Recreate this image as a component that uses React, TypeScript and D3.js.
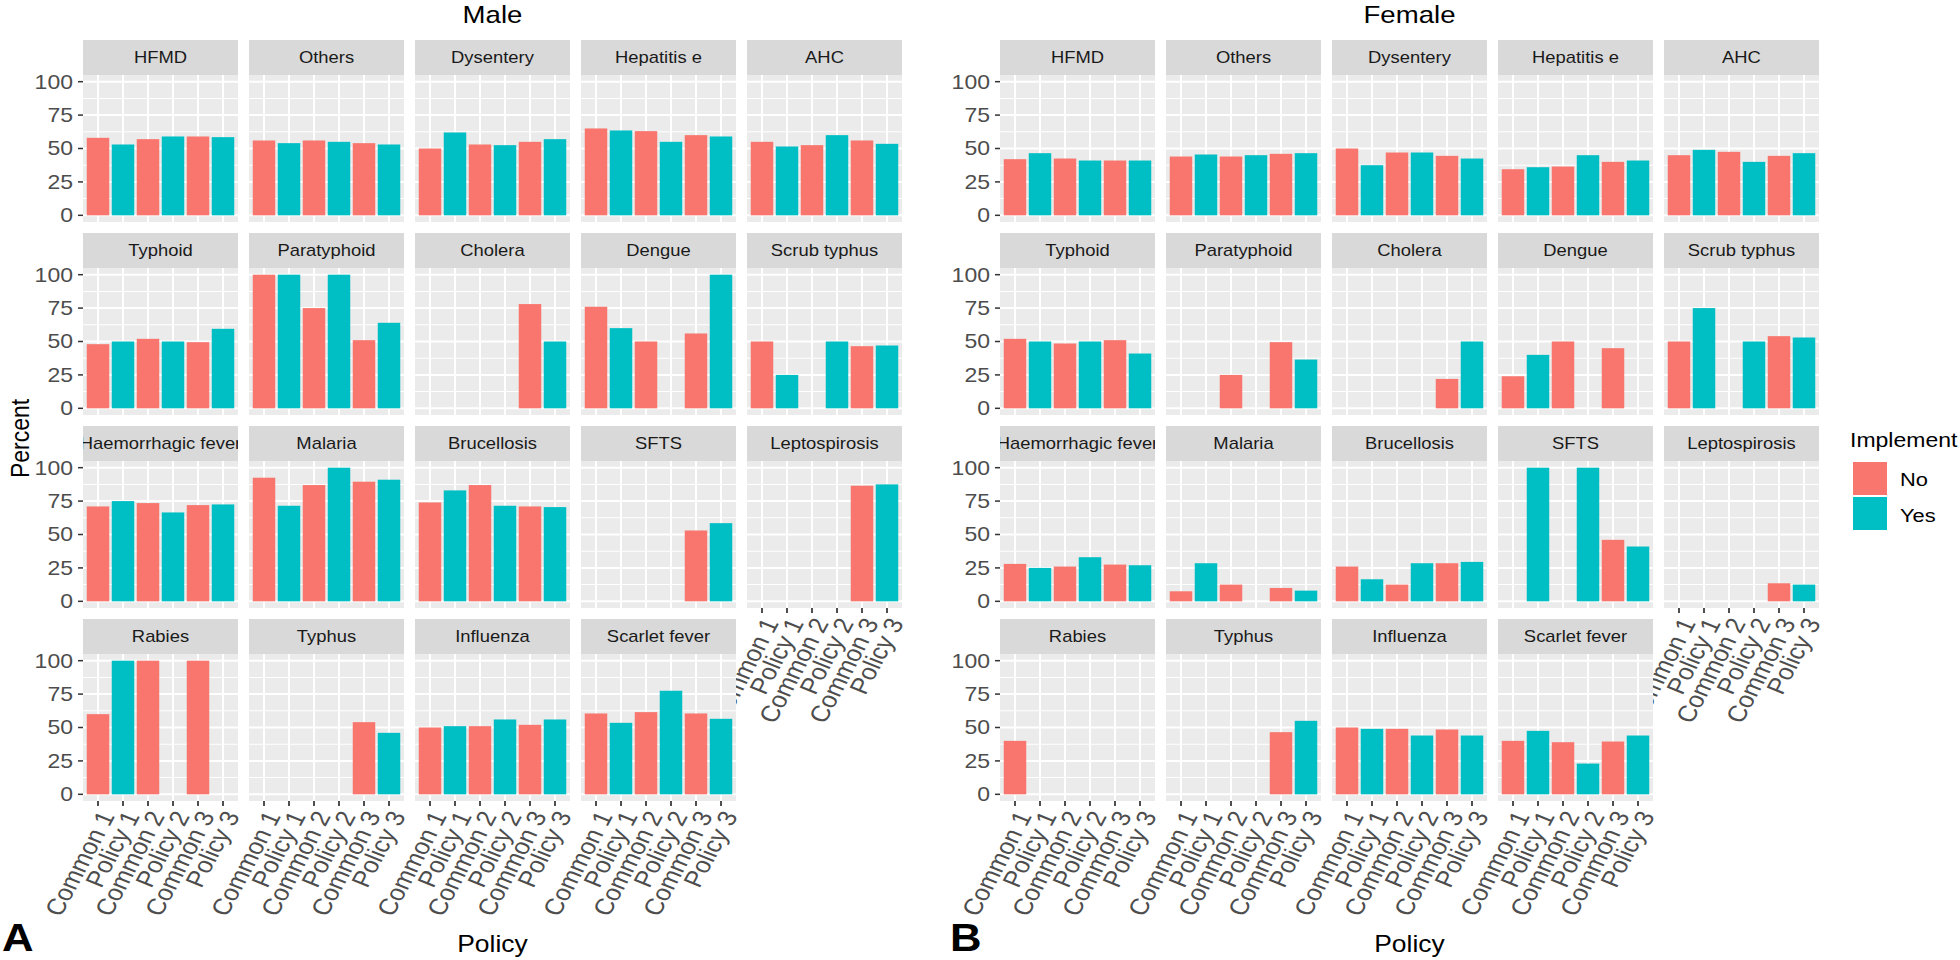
import * as d3 from "d3";
import React from "react";

const policies = ["Common 1", "Policy 1", "Common 2", "Policy 2", "Common 3", "Policy 3"];
const implement = ["No", "Yes", "No", "Yes", "No", "Yes"];
const implementLevels = ["No", "Yes"];
const implementColors = ["#F8766D", "#00BFC4"];
const yTicks = [0, 25, 50, 75, 100];
const yMinor = [12.5, 37.5, 62.5, 87.5];

const diseases = [
  "HFMD", "Others", "Dysentery", "Hepatitis e", "AHC",
  "Typhoid", "Paratyphoid", "Cholera", "Dengue", "Scrub typhus",
  "Haemorrhagic fever", "Malaria", "Brucellosis", "SFTS", "Leptospirosis",
  "Rabies", "Typhus", "Influenza", "Scarlet fever",
];

const _ = null;

// percent, one row per disease, columns follow `policies`
const maleValues: (number | null)[][] = [
  [58, 53, 57, 59, 59, 58.5],
  [56, 54, 56, 55, 54, 53],
  [50, 62, 53, 52.5, 55, 57],
  [65, 63.5, 63, 55, 60, 59],
  [55, 51.5, 52.5, 60, 56, 53.5],
  [48, 50, 52, 50, 49.5, 59.5],
  [100, 100, 75, 100, 51, 64],
  [_, _, _, _, 78, 50],
  [76, 60, 50, _, 56, 100],
  [50, 25, _, 50, 46.5, 47],
  [71, 75, 73.5, 66.5, 72, 72.5],
  [92.5, 71.5, 87, 100, 89.5, 91],
  [74, 83, 87, 71.5, 71, 70.5],
  [_, _, _, _, 53, 58.5],
  [_, _, _, _, 86.5, 87.5],
  [60, 100, 100, _, 100, _],
  [_, _, _, _, 54, 46],
  [50, 51, 51, 56, 52, 56],
  [60.5, 53.5, 61.5, 77.5, 60.5, 56.5],
];

const femaleValues: (number | null)[][] = [
  [42, 46.5, 42.5, 41, 41, 41],
  [44, 45.5, 44, 45, 46, 46.5],
  [50, 37.5, 47, 47, 44.5, 42.5],
  [34.5, 36, 36.5, 45, 40, 41],
  [45, 49, 47.5, 40, 44.5, 46.5],
  [52, 50, 48.5, 50, 51, 41],
  [_, _, 25, _, 49.5, 36.5],
  [_, _, _, _, 22, 50],
  [24, 40, 50, _, 45, _],
  [50, 75, _, 50, 54, 53],
  [28, 25, 26, 33, 27.5, 27],
  [7.5, 28.5, 12.5, _, 10, 8],
  [26, 16.5, 12.5, 28.5, 28.5, 29.5],
  [_, 100, _, 100, 46, 41],
  [_, _, _, _, 13.5, 12.5],
  [40, _, _, _, _, _],
  [_, _, _, _, 46.5, 55],
  [50, 49, 49, 44, 48.5, 44],
  [40, 47.5, 39, 23, 39.5, 44],
];

// the original figure is stretched sideways, so everything is drawn narrow and scaled
const S = 1.15;
const colStep = 166;
const panelW = 155;
const rowStep = 193;
const stripH = 35;
const panelH = 147;
const top0 = 40;
const nCols = 5;

const color = d3.scaleOrdinal<string, string>().domain(implementLevels).range(implementColors);

function FacetGrid({ id, title, values, left, tag, tagX, yTitle }: {
  id: string; title: string; values: (number | null)[][]; left: number;
  tag: string; tagX: number; yTitle: boolean;
}) {
  const pw = panelW / S;
  const x = d3.scalePoint<string>().domain(policies).range([0, pw]).padding(0.6);
  const bw = x.step() * 0.9;
  const cx = (left + (colStep * (nCols - 1) + panelW) / 2) / S;
  const nRows = Math.ceil(diseases.length / nCols);
  const gridBottom = top0 + (nRows - 1) * rowStep + stripH + panelH;

  return (
    <g>
      <text x={cx} y={23} textAnchor="middle" fontSize={24} fill="#000">{title}</text>
      {diseases.map((d, i) => {
        const r = Math.floor(i / nCols);
        const c = i % nCols;
        const px = (left + c * colStep) / S;
        const st = top0 + r * rowStep;
        const pt = st + stripH;
        const pb = pt + panelH;
        const y = d3.scaleLinear().domain([-5, 105]).range([pb, pt]);
        const bottom = i + nCols >= diseases.length;
        const clipId = `${id}-strip-${i}`;
        return (
          <g key={d}>
            <rect x={px} y={pt} width={pw} height={panelH} fill="#EBEBEB" />
            {yMinor.map((m) => (
              <line key={m} x1={px} x2={px + pw} y1={y(m)} y2={y(m)} stroke="#fff" strokeWidth={1} />
            ))}
            {yTicks.map((t) => (
              <line key={t} x1={px} x2={px + pw} y1={y(t)} y2={y(t)} stroke="#fff" strokeWidth={2} />
            ))}
            {policies.map((p) => (
              <line key={p} x1={px + x(p)!} x2={px + x(p)!} y1={pt} y2={pb} stroke="#fff" strokeWidth={1.8} />
            ))}
            {values[i].map((v, j) =>
              v == null ? null : (
                <rect
                  key={j}
                  x={px + x(policies[j])! - bw / 2}
                  y={y(v)}
                  width={bw}
                  height={y(0) - y(v)}
                  fill={color(implement[j])}
                />
              )
            )}
            <clipPath id={clipId}>
              <rect x={px} y={st} width={pw} height={stripH} />
            </clipPath>
            <rect x={px} y={st} width={pw} height={stripH} fill="#D9D9D9" />
            <text
              clipPath={`url(#${clipId})`}
              x={px + pw / 2}
              y={st + stripH / 2 + 5.8}
              textAnchor="middle"
              fontSize={16}
              fill="#1A1A1A"
            >
              {d}
            </text>
            {c === 0 &&
              yTicks.map((t) => (
                <g key={t}>
                  <line x1={px - 5 / S} x2={px} y1={y(t)} y2={y(t)} stroke="#333" strokeWidth={1.5} />
                  <text x={px - 10 / S} y={y(t) + 7} textAnchor="end" fontSize={20} fill="#4D4D4D">
                    {t}
                  </text>
                </g>
              ))}
            {bottom &&
              policies.map((p) => (
                <g key={p}>
                  <line x1={px + x(p)!} x2={px + x(p)!} y1={pb} y2={pb + 5} stroke="#333" strokeWidth={1.5} />
                  <text
                    transform={`translate(${px + x(p)!},${pb + 8}) rotate(-65)`}
                    textAnchor="end"
                    dy="0.72em"
                    fontSize={23}
                    fill="#4D4D4D"
                  >
                    {p}
                  </text>
                </g>
              ))}
          </g>
        );
      })}
      {yTitle && (
        <text transform={`translate(${29 / S},${(top0 + gridBottom) / 2 + 18}) rotate(-90)`} textAnchor="middle" fontSize={23} fill="#000">
          Percent
        </text>
      )}
      <text x={cx} y={952} textAnchor="middle" fontSize={23} fill="#000">Policy</text>
      <text x={tagX / S} y={951} fontSize={38} fontWeight="bold" fill="#000">{tag}</text>
    </g>
  );
}

function Legend() {
  const lx = 1850 / S;
  return (
    <g>
      <text x={lx} y={447} fontSize={20} fill="#000">Implement</text>
      {implementLevels.map((lv, k) => (
        <g key={lv}>
          <rect x={1853 / S} y={462 + k * 35} width={34 / S} height={33} fill={color(lv)} />
          <text x={1900 / S} y={486 + k * 36} fontSize={19} fill="#000">{lv}</text>
        </g>
      ))}
    </g>
  );
}

export default function App() {
  return (
    <svg
      width={1960}
      height={960}
      style={{ position: "absolute", left: 0, top: 0, background: "#fff" }}
      fontFamily="'Liberation Sans', Arial, sans-serif"
    >
      <g transform={`scale(${S},1)`}>
        <FacetGrid id="m" title="Male" values={maleValues} left={83} tag="A" tagX={2} yTitle={true} />
        <FacetGrid id="f" title="Female" values={femaleValues} left={1000} tag="B" tagX={950} yTitle={false} />
        <Legend />
      </g>
    </svg>
  );
}
